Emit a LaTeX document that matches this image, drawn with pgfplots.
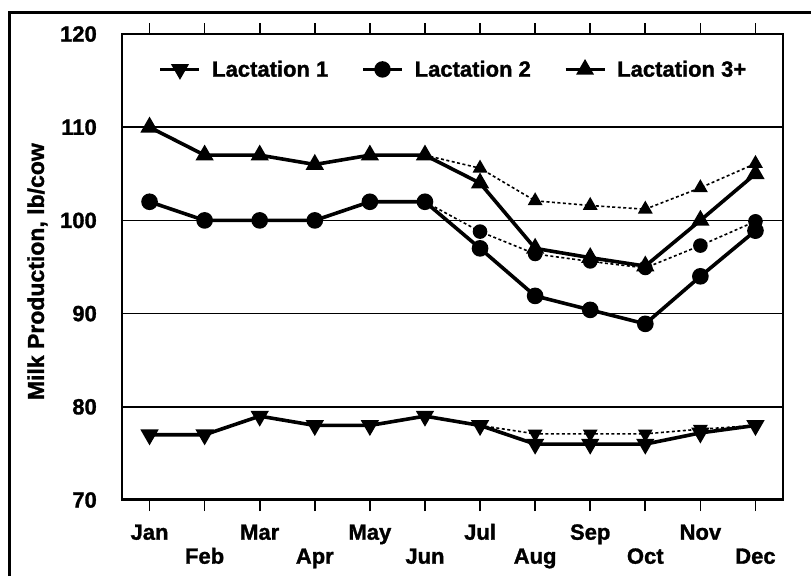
\documentclass[border=0pt]{standalone}
\usepackage{fontspec}
\setmainfont[BoldFeatures={FakeBold=1.3}]{Liberation Sans}
\usepackage{pgfplots}
\pgfplotsset{compat=1.18}
\begin{document}
\begin{tikzpicture}
\useasboundingbox (0pt,0pt) rectangle (811pt,-576pt);
\draw[line width=3pt] (9pt,-576pt) -- (9pt,-12pt) -- (811pt,-12pt);
\begin{axis}[
  at={(122pt,-500pt)}, anchor=south west,
  scale only axis, width=661pt, height=466pt,
  xmin=-0.5, xmax=11.5, ymin=70, ymax=120,
  ytick={70,80,90,100,110,120},
  ymajorgrids, grid style={black, line width=1.6pt},
  axis line style={line width=1.5pt},
  font=\fontsize{22}{26}\selectfont\bfseries,
  /pgf/number format/assume math mode=true,
  y tick style={draw=none},
  yticklabel style={anchor=east, inner sep=0pt, xshift=-14pt},
  x tick style={black, line width=1.6pt},
  tick align=outside, major tick length=11pt,
  xtick={0,2,4,6,8,10},
  xticklabels={Jan,Mar,May,Jul,Sep,Nov},
  xticklabel style={anchor=north, inner sep=0pt, text height=17pt, text depth=5pt, yshift=-11.5pt},
  extra x ticks={1,3,5,7,9,11},
  extra x tick labels={Feb,Apr,Jun,Aug,Oct,Dec},
  extra x tick style={xticklabel style={yshift=-24pt}},
  ylabel={Milk Production, lb/cow},
  ylabel style={at={(axis description cs:-0.128,0.49)}, anchor=center, font=\fontsize{23}{27}\selectfont\bfseries},
  legend style={draw=none, fill=none, at={(0.5,0.924)}, anchor=center,
    legend columns=3, font=\fontsize{22}{26}\selectfont\bfseries,
    /tikz/every odd column/.append style={column sep=11pt},
    /tikz/every even column/.append style={column sep=33pt},
    nodes={inner sep=0pt}},
  legend image code/.code={\draw[mark repeat=2,mark phase=2, line width=3.4pt] plot coordinates {(0pt,0pt) (19.5pt,0pt) (39pt,0pt)};},
]
% Lactation 1 solid
\addplot[black, line width=3.6pt, mark=triangle*, mark size=7pt, mark options={solid, fill=black, rotate=180}]
  coordinates {(0,77) (1,77) (2,79) (3,78) (4,78) (5,79) (6,78) (7,76) (8,76) (9,76) (10,77.2) (11,78)};
\addlegendentry{Lactation 1}
% Lactation 2 solid
\addplot[black, line width=3.6pt, mark=*, mark size=6.5pt, mark options={solid, fill=black}]
  coordinates {(0,102) (1,100) (2,100) (3,100) (4,102) (5,102) (6,97) (7,91.9) (8,90.4) (9,88.9) (10,94) (11,98.9)};
\addlegendentry{Lactation 2}
% Lactation 3+ solid
\addplot[black, line width=3.6pt, mark=triangle*, mark size=7pt, mark options={solid, fill=black}]
  coordinates {(0,110) (1,107) (2,107) (3,106) (4,107) (5,107) (6,104) (7,97) (8,96) (9,95.1) (10,100) (11,105)};
\addlegendentry{Lactation 3+}
% dotted series
\addplot[forget plot, black, line width=1.6pt, dash pattern=on 3pt off 2.5pt, mark=triangle*, mark size=7pt, mark options={solid, fill=black, rotate=180}]
  coordinates {(6,78) (7,77.1) (8,77.1) (9,77.1) (10,77.6) (11,78)};
\addplot[forget plot, black, line width=1.6pt, dash pattern=on 3pt off 2.5pt, mark=*, mark size=6.5pt, mark options={solid, fill=black}]
  coordinates {(5,102) (6,98.8) (7,96.4) (8,95.6) (9,94.9) (10,97.3) (11,99.9)};
\addplot[forget plot, black, line width=1.6pt, dash pattern=on 3pt off 2.5pt, mark=triangle*, mark size=7pt, mark options={solid, fill=black}]
  coordinates {(5,107) (6,105.6) (7,102.1) (8,101.6) (9,101.2) (10,103.5) (11,106.1)};
\draw[line width=3.5pt] (rel axis cs:0,0) -- (rel axis cs:1,0);
\draw[line width=2.4pt] (rel axis cs:0,0) -- (rel axis cs:0,1);
\end{axis}
\end{tikzpicture}
\end{document}
